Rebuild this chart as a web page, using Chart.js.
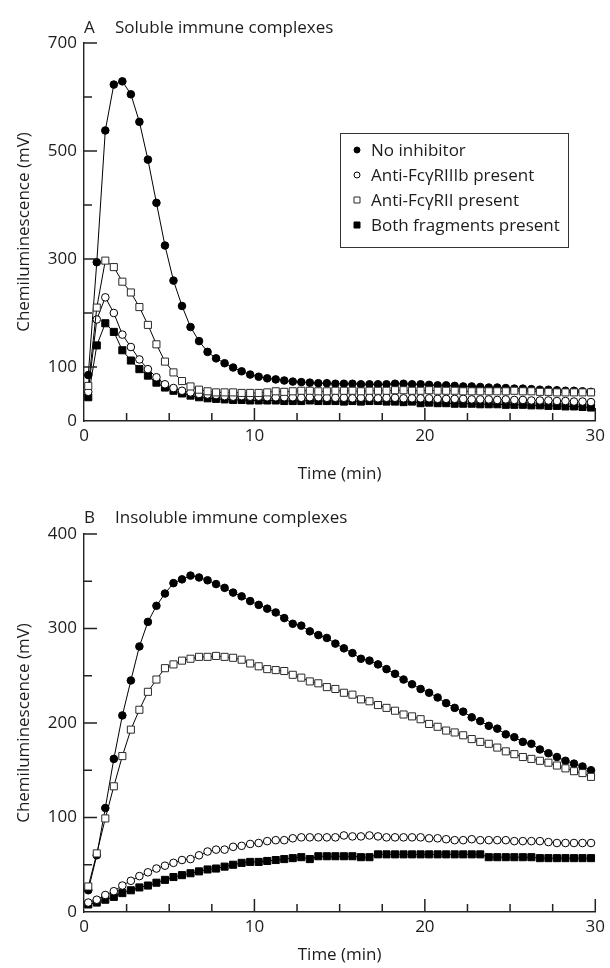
<!DOCTYPE html>
<html>
<head>
<meta charset="utf-8">
<script src="https://cdn.jsdelivr.net/npm/chart.js@4.4.0/dist/chart.umd.min.js"></script>
<style>
  html, body { margin: 0; padding: 0; background: #fff; }
  .panel { position: relative; width: 610px; height: 484px; }
</style>
</head>
<body>
<div class="panel"><canvas id="chartA"></canvas></div>
<div class="panel"><canvas id="chartB"></canvas></div>
<script>
// sampling times (min)
var times = [0.25, 0.75, 1.25, 1.75, 2.25, 2.75, 3.25, 3.75, 4.25, 4.75,
  5.25, 5.75, 6.25, 6.75, 7.25, 7.75, 8.25, 8.75, 9.25, 9.75,
  10.25, 10.75, 11.25, 11.75, 12.25, 12.75, 13.25, 13.75, 14.25, 14.75,
  15.25, 15.75, 16.25, 16.75, 17.25, 17.75, 18.25, 18.75, 19.25, 19.75,
  20.25, 20.75, 21.25, 21.75, 22.25, 22.75, 23.25, 23.75, 24.25, 24.75,
  25.25, 25.75, 26.25, 26.75, 27.25, 27.75, 28.25, 28.75, 29.25, 29.75];

var seriesLabels = ["No inhibitor", "Anti-Fc\u03b3RIIIb present", "Anti-Fc\u03b3RII present", "Both fragments present"];

// A: soluble immune complexes (mV)
var solubleNone = [85, 294, 538, 623, 629, 605, 554, 484, 404, 325,
  260, 213, 174, 148, 128, 116, 107, 99, 92, 86,
  82, 79, 77, 75, 73, 72, 71, 70, 70, 69,
  69, 69, 68, 68, 68, 68, 69, 69, 68, 68,
  67, 66, 66, 65, 64, 64, 63, 62, 62, 61,
  60, 60, 59, 58, 58, 57, 56, 56, 55, 54];
var solubleRIIIb = [54, 188, 229, 200, 160, 137, 114, 96, 81, 68,
  61, 56, 53, 50, 49, 48, 46, 45, 46, 45,
  45, 44, 44, 44, 44, 43, 44, 44, 43, 43,
  43, 42, 43, 43, 42, 43, 43, 42, 42, 42,
  42, 41, 41, 41, 41, 40, 40, 40, 39, 40,
  39, 39, 38, 38, 38, 37, 37, 36, 36, 35];
var solubleRII = [65, 210, 297, 285, 258, 238, 211, 178, 142, 110,
  90, 74, 64, 58, 55, 53, 53, 53, 52, 52,
  52, 53, 55, 54, 55, 56, 56, 55, 55, 56,
  56, 56, 55, 56, 56, 56, 57, 57, 56, 56,
  57, 56, 56, 56, 55, 55, 55, 55, 55, 55,
  56, 55, 55, 54, 54, 53, 53, 53, 53, 53];
var solubleBoth = [44, 140, 181, 165, 131, 112, 96, 84, 71, 62,
  56, 51, 47, 44, 42, 41, 40, 39, 39, 38,
  38, 38, 38, 37, 37, 37, 38, 37, 37, 37,
  36, 37, 36, 37, 37, 36, 36, 35, 36, 33,
  34, 33, 33, 32, 32, 32, 31, 31, 31, 30,
  30, 30, 29, 29, 28, 28, 27, 27, 26, 25];

// B: insoluble immune complexes (mV)
var insolubleNone = [23, 60, 110, 162, 208, 245, 281, 307, 324, 337,
  348, 352, 356, 354, 351, 347, 343, 338, 334, 329,
  325, 321, 317, 311, 305, 303, 297, 293, 290, 284,
  279, 274, 268, 266, 262, 257, 252, 246, 241, 236,
  232, 227, 221, 216, 212, 206, 202, 197, 194, 188,
  185, 180, 178, 172, 168, 164, 160, 157, 154, 150];
var insolubleRIIIb = [10, 13, 18, 22, 28, 33, 38, 42, 46, 49,
  52, 55, 56, 60, 64, 66, 66, 69, 70, 72,
  73, 75, 76, 76, 78, 79, 79, 79, 79, 79,
  81, 80, 80, 81, 80, 79, 79, 79, 79, 79,
  78, 78, 77, 76, 76, 77, 76, 76, 76, 76,
  75, 75, 75, 75, 74, 73, 73, 73, 73, 73];
var insolubleRII = [27, 62, 99, 133, 165, 193, 214, 233, 246, 258,
  262, 266, 268, 270, 270, 271, 270, 269, 267, 263,
  260, 257, 256, 255, 251, 248, 244, 242, 238, 236,
  232, 230, 225, 223, 219, 216, 213, 209, 207, 204,
  199, 196, 192, 190, 187, 183, 180, 178, 174, 170,
  167, 164, 162, 160, 158, 155, 152, 149, 147, 143];
var insolubleBoth = [8, 10, 13, 16, 20, 23, 26, 28, 31, 34,
  37, 39, 41, 43, 45, 46, 48, 50, 52, 53,
  53, 54, 55, 56, 57, 58, 56, 59, 59, 59,
  59, 59, 58, 58, 61, 61, 61, 61, 61, 61,
  61, 61, 61, 61, 61, 61, 61, 58, 58, 58,
  58, 58, 58, 57, 57, 57, 57, 57, 57, 57];

var timeTicks = [0, 10, 20, 30];
var solubleYTicks = [0, 100, 300, 500, 700];
var insolubleYTicks = [0, 100, 200, 300, 400];

var FONT = '"Open Sans", "DejaVu Sans", sans-serif';
var INK = '#1c1c1c';

var markerStyles = [
  { pointStyle: 'circle', pointRadius: 3.8, pointBackgroundColor: '#000', pointBorderColor: '#000', order: 2 },
  { pointStyle: 'circle', pointRadius: 3.8, pointBackgroundColor: '#fff', pointBorderColor: '#000', order: 1 },
  { pointStyle: 'rect', pointRadius: 5, pointBackgroundColor: '#fff', pointBorderColor: '#2a2a2a', order: 0 },
  { pointStyle: 'rect', pointRadius: 5, pointBackgroundColor: '#000', pointBorderColor: '#000', order: 3 }
];

function toPoints(values) {
  return values.map((v, i) => ({ x: times[i], y: v }));
}

// inward tick marks, panel title and boxed legend (settings kept in a closure)
function framePlugin(cfg) {
  return {
    id: 'frame',
    afterDraw(chart) {
      var ctx = chart.ctx, xs = chart.scales.x, ys = chart.scales.y, area = chart.chartArea;
      ctx.save();
      ctx.fillStyle = '#222';
      for (var k = 1; k <= 12; k++) {
        var px = xs.getPixelForValue(k * 2.5);
        var len = (k % 4 === 0) ? 13 : 8;
        ctx.fillRect(px - 0.75, area.bottom - len, 1.5, len);
      }
      var nY = Math.round(cfg.yMax / cfg.yStep);
      for (var j = 1; j <= nY; j++) {
        var w = j * cfg.yStep;
        var py = ys.getPixelForValue(w);
        var len2 = cfg.yTicks.indexOf(w) >= 0 ? 13 : 8;
        ctx.fillRect(area.left, py - 0.75, len2, 1.5);
      }

      ctx.fillStyle = INK;
      ctx.font = '17px ' + FONT;
      ctx.textBaseline = 'alphabetic';
      ctx.textAlign = 'left';
      ctx.fillText(cfg.letter, area.left, cfg.titleY);
      ctx.fillText(cfg.title, area.left + 31, cfg.titleY);

      if (cfg.legend) {
        var lg = cfg.legend;
        ctx.lineWidth = 1;
        ctx.strokeStyle = '#333';
        ctx.strokeRect(lg.x + 0.5, lg.y + 0.5, lg.w, lg.h);
        ctx.textBaseline = 'middle';
        chart.data.datasets.forEach((ds, i) => {
          var cy = lg.y + 17 + i * 25;
          var cx = lg.x + 17;
          ctx.fillStyle = ds.pointBackgroundColor;
          ctx.strokeStyle = ds.pointBorderColor;
          ctx.lineWidth = 1;
          ctx.beginPath();
          if (ds.pointStyle === 'circle') ctx.arc(cx, cy, 3, 0, Math.PI * 2);
          else ctx.rect(cx - 3, cy - 3, 6, 6);
          ctx.fill(); ctx.stroke();
          ctx.fillStyle = INK;
          ctx.fillText(ds.label, lg.x + 31, cy + 1);
        });
      }
      ctx.restore();
    }
  };
}

function makeChart(id, valueSets, yMax, yTicks, yStep, frame, padTop, xHeight, xTitlePad) {
  var datasets = valueSets.map((vals, i) => Object.assign({
    label: seriesLabels[i],
    data: toPoints(vals),
    borderColor: '#000',
    borderWidth: 1,
    pointBorderWidth: 1,
    pointHoverRadius: 4,
    showLine: true,
    clip: false
  }, markerStyles[i]));

  frame.yStep = yStep;
  frame.yMax = yMax;
  frame.yTicks = yTicks;

  return new Chart(document.getElementById(id).getContext('2d'), {
    type: 'line',
    data: { datasets: datasets },
    plugins: [framePlugin(frame)],
    options: {
      responsive: true,
      maintainAspectRatio: false,
      animation: false,
      layout: { padding: { top: padTop, right: 10, left: 0, bottom: 0 } },
      plugins: {
        legend: { display: false },
        tooltip: { enabled: false }
      },
      scales: {
        x: {
          type: 'linear',
          min: 0,
          max: 30,
          afterBuildTicks: s => { s.ticks = timeTicks.map(v => ({ value: v })); },
          afterFit: s => { s.height = xHeight; },
          grid: { display: false, drawTicks: false },
          border: { display: true, color: '#222', width: 1.4 },
          ticks: { color: INK, font: { size: 17, family: FONT }, padding: 5, maxRotation: 0 },
          title: { display: true, text: 'Time (min)', color: INK, font: { size: 17, family: FONT }, padding: { top: 0, bottom: xTitlePad } }
        },
        y: {
          min: 0,
          max: yMax,
          afterBuildTicks: s => { s.ticks = yTicks.map(v => ({ value: v })); },
          afterFit: s => { s.width = 84; },
          grid: { display: false, drawTicks: false },
          border: { display: true, color: '#222', width: 1.4 },
          ticks: { color: INK, font: { size: 17, family: FONT }, padding: 7 },
          title: { display: true, text: 'Chemiluminescence (mV)', color: INK, font: { size: 17, family: FONT }, padding: { top: 14, bottom: 0 } }
        }
      }
    }
  });
}

makeChart('chartA', [solubleNone, solubleRIIIb, solubleRII, solubleBoth], 700, solubleYTicks, 100,
  { letter: 'A', title: 'Soluble immune complexes', titleY: 33,
    legend: { x: 340, y: 133, w: 228, h: 114 } }, 43, 63, 0);

makeChart('chartB', [insolubleNone, insolubleRIIIb, insolubleRII, insolubleBoth], 400, insolubleYTicks, 50,
  { letter: 'B', title: 'Insoluble immune complexes', titleY: 39, legend: null }, 50, 56, 3);
</script>
</body>
</html>
